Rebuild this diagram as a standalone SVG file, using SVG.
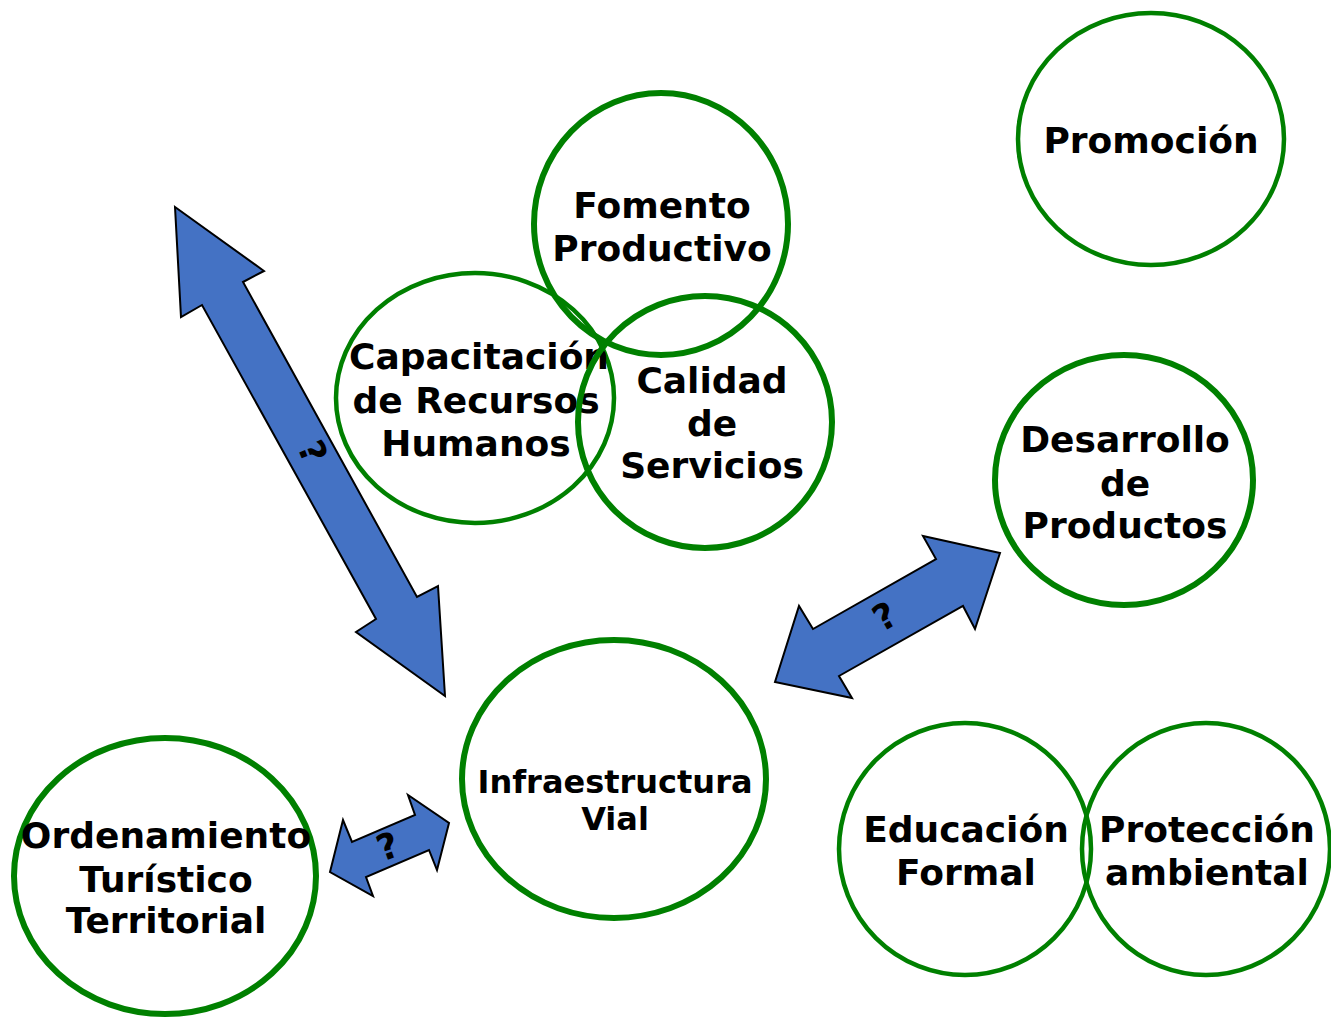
<svg xmlns="http://www.w3.org/2000/svg" width="1331" height="1019" viewBox="0 0 1331 1019">
<style>
.c{fill:none;stroke:#008000}
.thin{stroke-width:4.5}
.thick{stroke-width:6}
.t{font-family:"DejaVu Sans","Verdana",sans-serif;font-weight:bold;font-size:36px;fill:#000;text-anchor:middle}
.s{font-size:32px}
.arr{fill:#4472C4;stroke:#000;stroke-width:2;stroke-linejoin:miter}
.q{font-family:"DejaVu Sans","Verdana",sans-serif;font-weight:bold;font-size:36px;fill:#000;text-anchor:middle}
</style>
<rect width="1331" height="1019" fill="#fff"/>
<g id="promocion">
<ellipse class="c thin" cx="1151" cy="139" rx="133" ry="126"/>
<text class="t" x="1151" y="153">Promoción</text>
</g>
<g id="capacitacion">
<ellipse class="c thin" cx="475" cy="398" rx="139" ry="125"/>
<text class="t" x="479" y="369">Capacitación</text>
<text class="t" x="476" y="413">de Recursos</text>
<text class="t" x="476" y="456">Humanos</text>
</g>
<g id="fomento">
<ellipse class="c thick" cx="661" cy="224" rx="127" ry="131"/>
<text class="t" x="662" y="218">Fomento</text>
<text class="t" x="662" y="261">Productivo</text>
</g>
<g id="calidad">
<ellipse class="c thick" cx="705" cy="422" rx="127" ry="126"/>
<text class="t" x="712" y="393">Calidad</text>
<text class="t" x="712" y="436">de</text>
<text class="t" x="712" y="478">Servicios</text>
</g>
<g id="desarrollo">
<ellipse class="c thick" cx="1124" cy="480" rx="129" ry="125"/>
<text class="t" x="1125" y="452">Desarrollo</text>
<text class="t" x="1125" y="496">de</text>
<text class="t" x="1125" y="538">Productos</text>
</g>
<g id="infraestructura">
<ellipse class="c thick" cx="614" cy="779" rx="152" ry="139"/>
<text class="t s" x="615" y="793">Infraestructura</text>
<text class="t s" x="615" y="830">Vial</text>
</g>
<g id="ordenamiento">
<ellipse class="c thick" cx="165" cy="876" rx="151" ry="138"/>
<text class="t" x="166" y="848">Ordenamiento</text>
<text class="t" x="166" y="892">Turístico</text>
<text class="t" x="166" y="933">Territorial</text>
</g>
<g id="educacion">
<ellipse class="c thin" cx="965" cy="849" rx="126" ry="126"/>
<text class="t" x="966" y="842">Educación</text>
<text class="t" x="966" y="885">Formal</text>
</g>
<g id="proteccion">
<ellipse class="c thin" cx="1206" cy="849" rx="124" ry="126"/>
<text class="t" x="1207" y="842">Protección</text>
<text class="t" x="1207" y="885">ambiental</text>
</g>
<g id="connectors">
<polygon class="arr" points="175,207 264,271 243,282 417,597 438,586 445,696 356,632 376,619 202,305 181,317"/>
<text class="q" transform="translate(312,452) rotate(68)" y="12">?</text>
<polygon class="arr" points="1000,553 975,629 963,606 839,676 852,698 775,682 799,606 813,629 936,559 923,536"/>
<text class="q" transform="translate(885,617) rotate(-30)" y="12">?</text>
<polygon class="arr" points="449,823 437,870 429,850 366,877 373,896 330,872 343,820 352,842 415,815 408,795"/>
<text class="q" transform="translate(388,847) rotate(-20)" y="12">?</text>
</g>
</svg>
